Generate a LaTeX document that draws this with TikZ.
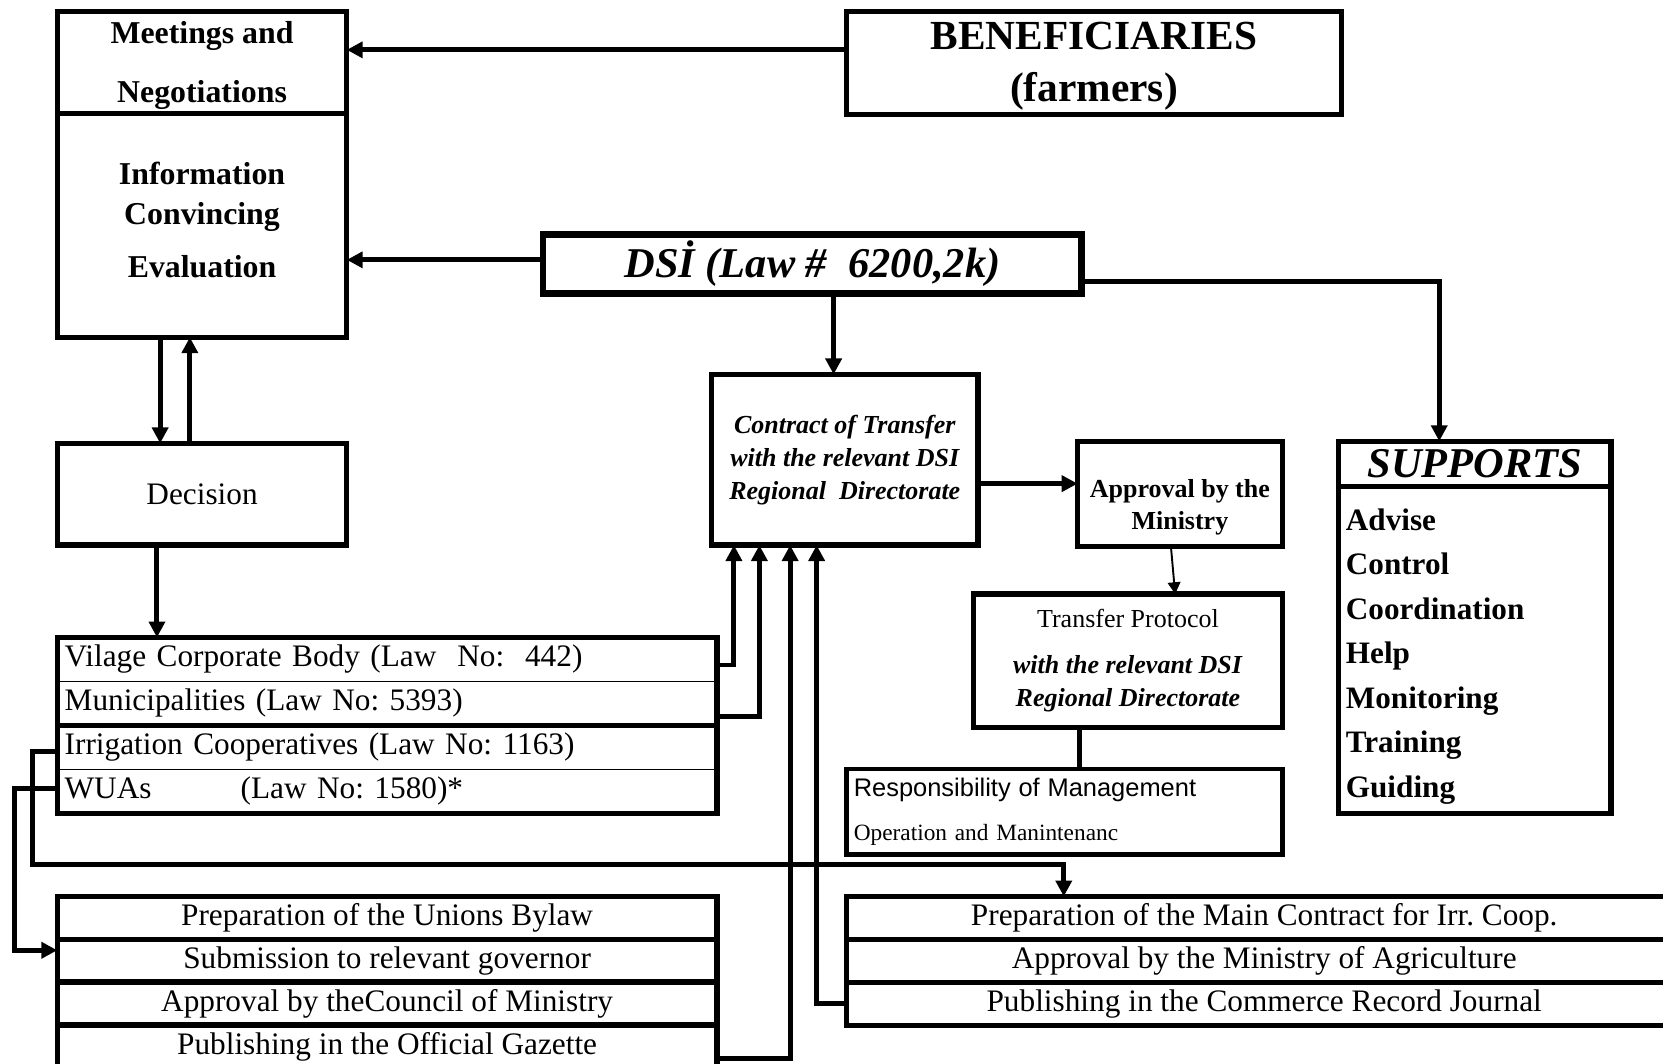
\documentclass[tikz,border=0pt]{standalone}
\usepackage{fontspec}
\setmainfont{Liberation Serif}
\newfontfamily\arialfont{Liberation Sans}
\usetikzlibrary{positioning,arrows.meta}
\frenchspacing

\begin{document}
\begin{tikzpicture}[x=1pt,y=-1pt,>={Triangle[length=15pt,width=15pt]},
  box/.style={draw,line width=5pt,inner sep=0pt,outer sep=0pt,align=center},
  row/.style={draw,line width=1.2pt,inner xsep=7pt,inner ysep=0pt,outer sep=0pt,text width=608pt,align=left,minimum height=41.5pt,font=\fontsize{29.5}{34}\selectfont},
  stage/.style={draw,line width=5pt,inner sep=0pt,outer sep=0pt,minimum height=40.5pt,font=\fontsize{29.5}{34}\selectfont},
  frame/.style={line width=5pt},
  conn/.style={->,line width=4.7pt},
  link/.style={line width=4.7pt},
  thinconn/.style={-{Triangle[length=11pt,width=12pt]},line width=1.8pt}]

\useasboundingbox (0,0) rectangle (1568,1003);
\clip (0,0) rectangle (1568,1003);

% top left
\node[box,minimum width=273pt,minimum height=96pt,label={[align=center,font=\fontsize{30}{56}\selectfont\bfseries,yshift=-3pt]center:Meetings and\\Negotiations}] (meet) at (190.5,59) {};
\node[box,minimum width=273pt,minimum height=211pt,label={[align=center,font=\fontsize{30}{37}\selectfont\bfseries,yshift=5pt]center:Information\\Convincing\\[13pt]Evaluation}] (info) at (190.5,212.5) {};
\node[box,minimum width=273pt,minimum height=96pt,font=\fontsize{29.5}{34}\selectfont] (decision) at (190.5,466) {Decision};

% top right
\node[box,minimum width=467pt,minimum height=97pt,label={[align=center,font=\fontsize{39}{49}\selectfont\bfseries,yshift=-3pt]center:BENEFICIARIES\\(farmers)}] (benef) at (1031.5,59.5) {};
\node[box,line width=6.5pt,minimum width=508pt,minimum height=56pt,font=\fontsize{40}{48}\selectfont\bfseries\itshape] (dsi) at (766,249) {DSİ (Law \#~~6200,2k)};

% middle
\node[box,minimum width=251pt,minimum height=161pt,font=\fontsize{24.5}{31}\selectfont\bfseries\itshape] (contract) at (796.5,433.5) {Contract of Transfer\\with the relevant DSI\\Regional~~Directorate};
\node[box,minimum width=193pt,minimum height=99pt,label={[align=center,font=\fontsize{24.5}{30}\selectfont\bfseries,yshift=-12.5pt]center:Approval by the\\Ministry}] (approv) at (1112.5,465.5) {};
\node[box,minimum width=291pt,minimum height=126pt,font=\fontsize{24.5}{31}\selectfont] (transfer) at (1063.5,623) {Transfer Protocol\\[12pt]\textbf{\textit{with the relevant DSI}}\\\textbf{\textit{Regional Directorate}}};
\node[box,line width=4.5pt,minimum height=81pt,text width=397pt,inner xsep=7pt,align=left,font=\fontsize{22}{42}\selectfont] (resp) at (1003.5,765.5) {{\arialfont\fontsize{24}{42}\selectfont Responsibility of Management}\\Operation and Manintenanc};

% supports
\node[box,minimum width=257pt,minimum height=43pt,font=\fontsize{40}{44}\selectfont\bfseries\itshape] (suphead) at (1390.5,437.5) {SUPPORTS};
\node[box,below=0pt of suphead,minimum width=257pt,minimum height=308pt,label={[text width=243pt,align=left,font=\fontsize{29.4}{42}\selectfont\bfseries,yshift=-6pt]center:Advise\\Control\\Coordination\\Help\\Monitoring\\Training\\Guiding}] (supbody) {};

% organisations
\node[row] (org1) at (365,621.75) {Vilage Corporate Body (Law~~No:~~442)};
\node[row,below=0pt of org1] (org2) {Municipalities (Law No: 5393)};
\node[row,below=0pt of org2] (org3) {Irrigation Cooperatives (Law No: 1163)};
\node[row,below=0pt of org3] (org4) {WUAs\hspace{84pt}(Law No: 1580)*};
\draw[frame] (org1.north west) rectangle (org2.south east);
\draw[frame] (org3.north west) rectangle (org4.south east);

% unions
\node[stage,minimum width=622pt] (u1) at (365,865.25) {Preparation of the Unions Bylaw};
\node[stage,minimum width=622pt,below=0pt of u1] (u2) {Submission to relevant governor};
\node[stage,minimum width=622pt,below=0pt of u2] (u3) {Approval by theCouncil of Ministry};
\node[stage,minimum width=622pt,below=0pt of u3] (u4) {Publishing in the Official Gazette};

% main contract
\node[stage,minimum width=788pt] (m1) at (1192,865.5) {Preparation of the Main Contract for Irr. Coop.};
\node[stage,minimum width=788pt,below=0pt of m1] (m2) {Approval by the Ministry of Agriculture};
\node[stage,minimum width=788pt,below=0pt of m2] (m3) {Publishing in the Commerce Record Journal};

% connectors
\draw[conn] (benef.west |- 0,47) -- (meet.east |- 0,47);
\draw[conn] (dsi.west |- 0,245) -- (info.east |- 0,245);
\draw[conn] (dsi.south -| 786,0) -- (contract.north -| 786,0);
\draw[conn] (dsi.east |- 0,265) -| (suphead.north -| 1357,0);
\draw[conn] (contract.east |- 0,456) -- (approv.west |- 0,456);
\draw[thinconn] (approv.south -| 1104,0) -- (transfer.north -| 1108,0);
\draw[link] (transfer.south -| 1018,0) -- (resp.north -| 1018,0);
\draw[conn] (info.south -| 151,0) -- (decision.north -| 151,0);
\draw[conn] (decision.north -| 179,0) -- (info.south -| 179,0);
\draw[conn] (decision.south -| 148,0) -- (org1.north -| 148,0);
\draw[conn] (org1.east |- 0,627) -| (contract.south -| 692,0);
\draw[conn] (org2.east |- 0,676) -| (contract.south -| 716,0);
\draw[conn] (u4.east |- 0,998) -| (contract.south -| 745,0);
\draw[conn] (m3.west) -| (contract.south -| 770,0);
\draw[conn] (org3.west |- 0,709) -| (31,815) -| (m1.north -| 1003,0);
\draw[conn] (org4.west |- 0,743) -| (14,896) -- (u2.west |- 0,896);
\end{tikzpicture}
\end{document}
